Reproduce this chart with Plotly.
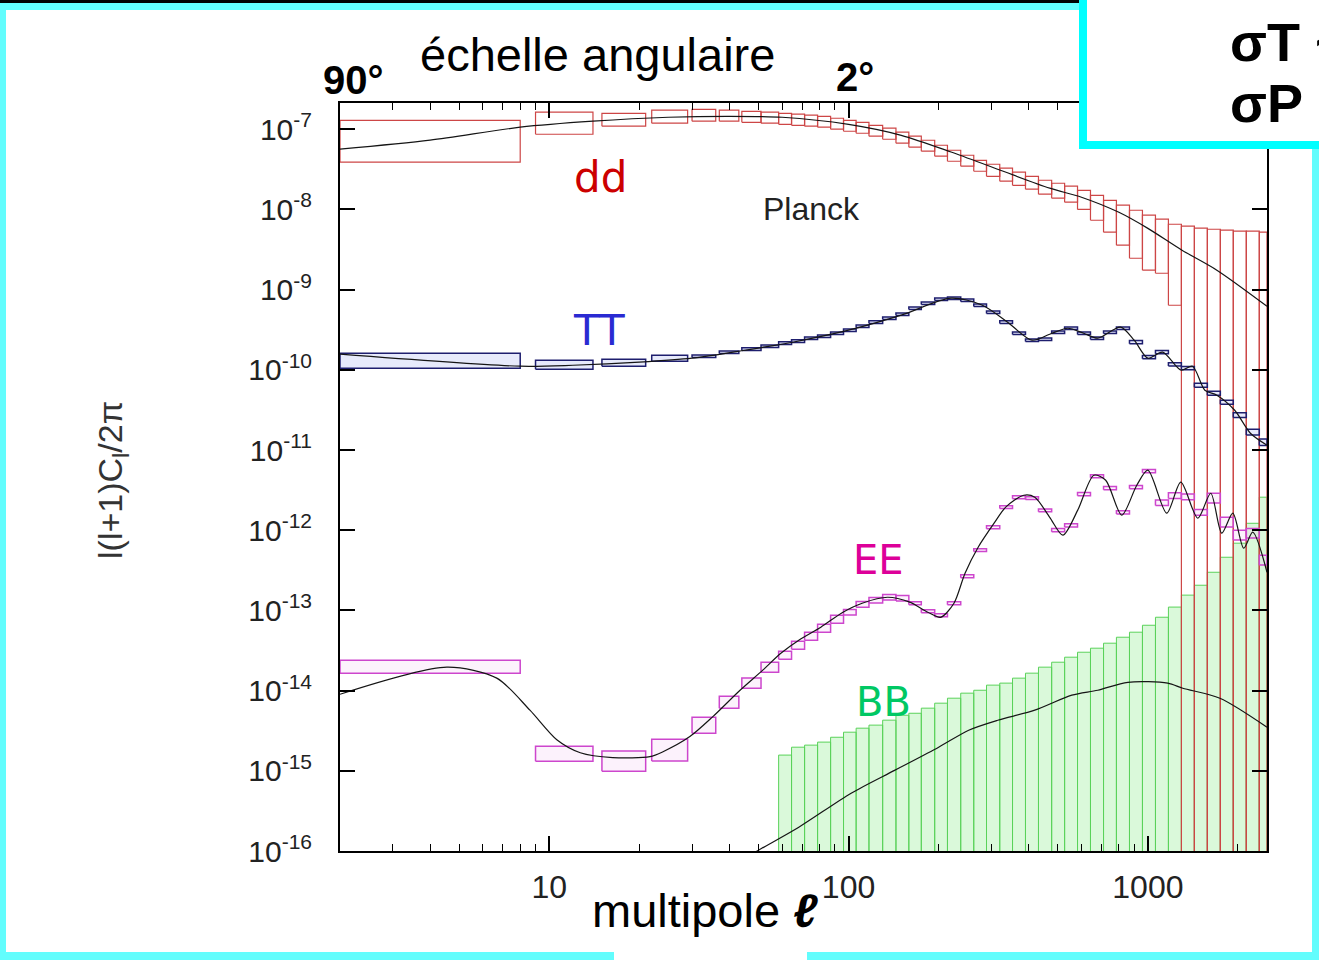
import plotly.graph_objects as go

W, H = 1319, 960
ML, MR, MT, MB = 340, 52, 103, 109
PW, PH = W - ML - MR, H - MT - MB


def fx(x):
    return (x - ML) / PW


def fy(y):
    return (H - MB - y) / PH


FLOOR = 1e-17  # lower edge below the axis (error bar reaching zero)

bin_lo = [2, 9, 15, 22, 30, 37, 44, 51, 58.4, 64.5, 71.3, 78.8, 87.1, 96.2, 106, 117, 130, 144,
          159, 175, 194, 214, 237, 262, 289, 320, 353, 390, 431, 477, 527, 582, 643, 711, 785,
          868, 959, 1060, 1171, 1294, 1430, 1580, 1746, 1929, 2132, 2356]
bin_hi = [8, 14, 21, 29, 36, 43, 51, 58.4, 64.5, 71.3, 78.8, 87.1, 96.2, 106, 117, 130, 144, 159,
          175, 194, 214, 237, 262, 289, 320, 353, 390, 431, 477, 527, 582, 643, 711, 785, 868,
          959, 1060, 1171, 1294, 1430, 1580, 1746, 1929, 2132, 2356, 2500]

# ---- dd (lensing) error boxes ----
dd_top = [1.29e-7, 1.63e-7, 1.58e-7, 1.73e-7, 1.77e-7, 1.73e-7, 1.67e-7, 1.63e-7, 1.58e-7, 1.54e-7,
          1.50e-7, 1.45e-7, 1.37e-7, 1.29e-7, 1.22e-7, 1.12e-7, 1.03e-7, 9.18e-8, 8.18e-8, 7.29e-8,
          6.31e-8, 5.47e-8, 4.74e-8, 4.10e-8, 3.66e-8, 3.27e-8, 2.91e-8, 2.59e-8, 2.31e-8, 2.12e-8,
          1.95e-8, 1.73e-8, 1.50e-8, 1.30e-8, 1.13e-8, 9.77e-9, 8.47e-9, 7.55e-9, 6.53e-9, 6.18e-9,
          5.83e-9, 5.66e-9, 5.51e-9, 5.35e-9, 5.35e-9, 5.20e-9]
dd_bot = [3.88e-8, 8.66e-8, 1.09e-7, 1.19e-7, 1.26e-7, 1.26e-7, 1.22e-7, 1.19e-7, 1.15e-7, 1.12e-7,
          1.09e-7, 1.06e-7, 1.00e-7, 9.44e-8, 8.91e-8, 8.18e-8, 7.50e-8, 6.69e-8, 5.97e-8, 5.32e-8,
          4.61e-8, 3.99e-8, 3.46e-8, 2.99e-8, 2.59e-8, 2.25e-8, 2.00e-8, 1.79e-8, 1.55e-8, 1.38e-8,
          1.23e-8, 1.00e-8, 7.33e-9, 5.20e-9, 3.58e-9, 2.46e-9, 1.75e-9, 1.60e-9, 6.38e-10, FLOOR,
          FLOOR, FLOOR, FLOOR, FLOOR, FLOOR, FLOOR]

# ---- TT boxes: value and half-height (dex) ----
tt_val = [1.30e-10, 1.157e-10, 1.226e-10, 1.395e-10, 1.48e-10, 1.66e-10, 1.81e-10, 1.97e-10, 2.15e-10,
          2.28e-10, 2.48e-10, 2.62e-10, 2.86e-10, 3.12e-10, 3.50e-10, 3.93e-10, 4.40e-10, 4.93e-10,
          5.86e-10, 6.76e-10, 7.59e-10, 7.82e-10, 7.38e-10, 6.38e-10, 5.22e-10, 3.93e-10, 2.86e-10,
          2.34e-10, 2.41e-10, 2.94e-10, 3.30e-10, 2.86e-10, 2.48e-10, 2.94e-10, 3.30e-10, 2.21e-10,
          1.44e-10, 1.66e-10, 1.17e-10, 1.05e-10, 6.43e-11, 5.11e-11, 3.94e-11, 2.72e-11, 1.67e-11,
          1.25e-11]
tt_err = [0.094, 0.057, 0.044, 0.038] + [0.016] * 31 + [0.02] * 5 + [0.025] * 3 + [0.03, 0.035, 0.04]

# ---- EE boxes: value and half-height (dex) ----
ee_val = [1.99e-14, 1.63e-15, 1.32e-15, 1.81e-15, 3.70e-15, 7.17e-15, 1.24e-14, 1.96e-14, 2.76e-14,
          3.68e-14, 4.76e-14, 6.00e-14, 7.76e-14, 9.50e-14, 1.19e-13, 1.34e-13, 1.46e-13, 1.42e-13,
          1.23e-13, 9.77e-14, 8.71e-14, 1.23e-13, 2.67e-13, 5.64e-13, 1.09e-12, 1.94e-12, 2.58e-12,
          2.51e-12, 1.77e-12, 1.00e-12, 1.15e-12, 2.81e-12, 4.71e-12, 3.34e-12, 1.67e-12, 3.44e-12,
          5.45e-12, 2.20e-12, 2.70e-12, 2.60e-12, 1.67e-12, 2.51e-12, 1.26e-12, 8.67e-13, 9.18e-13,
          4.23e-13]
ee_err = [0.081, 0.094, 0.125, 0.137, 0.10, 0.075, 0.0625, 0.0625] + [0.05] * 5 + [0.035] * 5 \
    + [0.018] * 11 + [0.02] * 8 + [0.035] * 4 + [0.06] * 5

# ---- BB boxes (bins 9..46), upper edge; lower edge reaches zero ----
bb_top = [1.57e-15, 1.97e-15, 2.09e-15, 2.28e-15, 2.62e-15, 3.03e-15, 3.40e-15, 3.71e-15, 4.28e-15,
          4.93e-15, 5.22e-15, 6.04e-15, 6.97e-15, 8.04e-15, 9.29e-15, 1.01e-14, 1.17e-14, 1.24e-14,
          1.43e-14, 1.65e-14, 1.96e-14, 2.26e-14, 2.61e-14, 3.01e-14, 3.38e-14, 3.90e-14, 4.63e-14,
          5.35e-14, 6.53e-14, 8.22e-14, 1.10e-13, 1.55e-13, 2.06e-13, 2.99e-13, 4.60e-13, 6.89e-13,
          1.22e-12, 2.58e-12]
BB_FIRST_BIN = 8

# ---- theory curves ----
dd_l = [2, 4, 8, 14, 25, 40, 60, 100, 150, 220, 320, 470, 600, 800, 1000, 1300, 1700, 2500]
dd_c = [5.64e-8, 7.3e-8, 1.06e-7, 1.26e-7, 1.41e-7, 1.45e-7, 1.41e-7, 1.15e-7, 8.4e-8, 5.2e-8,
        3.1e-8, 1.84e-8, 1.42e-8, 9.2e-9, 5.8e-9, 3.1e-9, 1.75e-9, 6.2e-10]

tt_l = [2, 8, 12, 20, 30, 45, 65, 100, 150, 220, 280, 340, 410, 470, 540, 610, 680, 810, 900, 1000,
        1120, 1290, 1410, 1550, 1700, 1950, 2200, 2500]
tt_c = [1.566e-10, 1.109e-10, 1.14e-10, 1.245e-10, 1.396e-10, 1.754e-10, 2.208e-10, 3.119e-10,
        4.80e-10, 7.82e-10, 6.39e-10, 3.92e-10, 2.34e-10, 2.78e-10, 3.30e-10, 2.86e-10, 2.48e-10,
        3.40e-10, 2.34e-10, 1.396e-10, 1.66e-10, 9.89e-11, 1.109e-10, 5.57e-11, 4.82e-11, 3.13e-11,
        1.62e-11, 1.15e-11]

ee_l = [2, 4.55, 6.68, 8.62, 10.6, 12.7, 16.3, 21.7, 24, 29.5, 35.2, 43.4, 51.7, 59.4, 68.2, 80.8,
        95.8, 111, 135, 160, 184, 203, 225, 245, 271, 308, 335, 385, 419, 470, 520, 583, 660, 723,
        818, 918, 1000, 1156, 1288, 1468, 1622, 1765, 1922, 2090, 2240, 2500]
ee_c = [9.0e-15, 1.96e-14, 1.43e-14, 5.7e-15, 2.44e-15, 1.68e-15, 1.46e-15, 1.50e-15, 1.73e-15,
        2.67e-15, 4.73e-15, 1.01e-14, 1.80e-14, 2.92e-14, 4.25e-14, 6.18e-14, 9.5e-14, 1.23e-13,
        1.46e-13, 1.27e-13, 9.5e-14, 8.2e-14, 1.23e-13, 2.91e-13, 6.14e-13, 1.26e-12, 1.94e-12,
        2.73e-12, 2.58e-12, 1.45e-12, 8.67e-13, 1.78e-12, 4.85e-12, 4.20e-12, 1.54e-12, 3.64e-12,
        5.60e-12, 1.63e-12, 3.97e-12, 1.41e-12, 2.89e-12, 9.18e-13, 1.63e-12, 5.97e-13, 9.44e-13,
        2.99e-13]

bb_l = [45, 51.3, 68.2, 102, 143, 200, 252, 315, 419, 557, 680, 857, 1165, 1308, 1740, 2500]
bb_c = [8.1e-17, 1.08e-16, 1.98e-16, 5.26e-16, 1.02e-15, 1.97e-15, 3.21e-15, 4.27e-15, 5.70e-15,
        8.77e-15, 1.01e-14, 1.27e-14, 1.24e-14, 1.07e-14, 8.04e-15, 3.50e-15]

x_ticks = [10, 100, 1000]
x_minor = [2, 3, 4, 5, 6, 7, 8, 9, 20, 30, 40, 50, 60, 70, 80, 90,
           200, 300, 400, 500, 600, 700, 800, 900, 2000]
y_exps = list(range(-16, -6))


def box_path(lo, hi, bot, top):
    xs, ys = [], []
    for a, b, c, d in zip(lo, hi, bot, top):
        xs += [a, b, b, a, a, None]
        ys += [c, c, d, d, c, None]
    return xs, ys


fig = go.Figure()

# BB boxes
bx, by = box_path(bin_lo[BB_FIRST_BIN:], bin_hi[BB_FIRST_BIN:], [FLOOR] * len(bb_top), bb_top)
fig.add_trace(go.Scatter(x=bx, y=by, mode="lines", fill="toself",
                         fillcolor="rgba(205,247,205,0.75)",
                         line=dict(color="rgb(90,210,90)", width=1), hoverinfo="skip"))
# dd boxes
dx, dy = box_path(bin_lo, bin_hi, dd_bot, dd_top)
fig.add_trace(go.Scatter(x=dx, y=dy, mode="lines", line=dict(color="rgb(205,70,70)", width=1.2),
                         hoverinfo="skip"))
# EE boxes
ex, ey = box_path(bin_lo, bin_hi, [v * 10 ** (-e) for v, e in zip(ee_val, ee_err)],
                  [v * 10 ** e for v, e in zip(ee_val, ee_err)])
fig.add_trace(go.Scatter(x=ex, y=ey, mode="lines", fill="toself",
                         fillcolor="rgba(245,205,245,0.25)",
                         line=dict(color="rgb(205,70,205)", width=1.5), hoverinfo="skip"))
# TT boxes
tx, ty = box_path(bin_lo, bin_hi, [v * 10 ** (-e) for v, e in zip(tt_val, tt_err)],
                  [v * 10 ** e for v, e in zip(tt_val, tt_err)])
fig.add_trace(go.Scatter(x=tx, y=ty, mode="lines", fill="toself",
                         fillcolor="rgba(160,170,240,0.25)",
                         line=dict(color="rgb(30,30,110)", width=1.5), hoverinfo="skip"))

# theory curves
for L, C in [(dd_l, dd_c), (tt_l, tt_c), (ee_l, ee_c), (bb_l, bb_c)]:
    fig.add_trace(go.Scatter(x=L, y=C, mode="lines", line=dict(color="#151515", width=1.2,
                                                               shape="spline", smoothing=0.8),
                             hoverinfo="skip"))

SANS = "Liberation Sans, Arial, sans-serif"
fig.update_layout(
    width=W, height=H, showlegend=False,
    margin=dict(l=ML, r=MR, t=MT, b=MB, autoexpand=False),
    paper_bgcolor="white", plot_bgcolor="white",
    xaxis=dict(type="log", range=[0.30103, 3.39794], showgrid=False, zeroline=False,
               showline=True, linecolor="black", linewidth=2, mirror="ticks",
               ticks="inside", ticklen=15, tickwidth=1.5, tickcolor="black",
               tickvals=x_ticks, ticktext=[str(v) for v in x_ticks],
               tickfont=dict(family=SANS, size=32, color="#222"), ticklabelstandoff=7,
               minor=dict(ticks="inside", ticklen=7, tickwidth=1.2, tickcolor="black",
                          tickvals=x_minor, showgrid=False)),
    yaxis=dict(type="log", range=[-16, -6.673], showgrid=False, zeroline=False,
               showline=True, linecolor="black", linewidth=2, mirror="ticks",
               ticks="inside", ticklen=15, tickwidth=1.5, tickcolor="black",
               tickvals=[10.0 ** e for e in y_exps],
               ticktext=["10<sup>%d</sup>" % e for e in y_exps],
               tickfont=dict(family=SANS, size=30, color="#222"), ticklabelstandoff=20),
)

ann = []


def add_text(x, y, text, size, color="#000", family=SANS, xanchor="center", angle=0):
    ann.append(dict(x=fx(x), y=fy(y), xref="paper", yref="paper", text=text, showarrow=False,
                    xanchor=xanchor, yanchor="middle", textangle=angle,
                    font=dict(family=family, size=size, color=color)))


DEJ = "DejaVu Sans, sans-serif"
add_text(600, 178, "dd", 42, "#cc0000", DEJ)
add_text(599, 330, "TT", 42, "#2a2ad2", DEJ)
add_text(878, 560, "EE", 40, "#dd0099", DEJ)
add_text(883, 702, "BB", 40, "#00c864", DEJ)
add_text(811, 209, "Planck", 32, "#222")
add_text(597, 55, "échelle angulaire", 47)
add_text(353, 80, "<b>90°</b>", 40)
add_text(855, 77, "<b>2°</b>", 40)
add_text(705, 910, "multipole <b><i>ℓ</i></b>", 47)
add_text(112, 480, "l(l+1)C<sub>l</sub>/2π", 34, "#333", angle=-90)
add_text(1228, 42, "<b>σT ~ 2 μK</b>", 54, xanchor="left")
add_text(1228, 103, "<b>σP ~ 4 μK</b>", 54, xanchor="left")

shapes = []


def rect(x0, y0, x1, y1, color):
    shapes.append(dict(type="rect", xref="paper", yref="paper", x0=fx(x0), x1=fx(x1),
                       y0=fy(y1), y1=fy(y0), fillcolor=color, line=dict(width=0),
                       layer="above"))


CY = "#62fdfd"
rect(0, 0, 1080, 3, "black")
rect(0, 3, 1080, 10, CY)
rect(0, 3, 6, 960, CY)
rect(0, 952, 1319, 960, CY)
rect(614, 950, 807, 960, "white")
rect(1312, 148, 1319, 960, CY)
rect(1079, -5, 1330, 149, "#00ffff")
rect(1087, -10, 1340, 141, "white")

fig.update_layout(annotations=ann, shapes=shapes)
fig.write_html("out.html")
